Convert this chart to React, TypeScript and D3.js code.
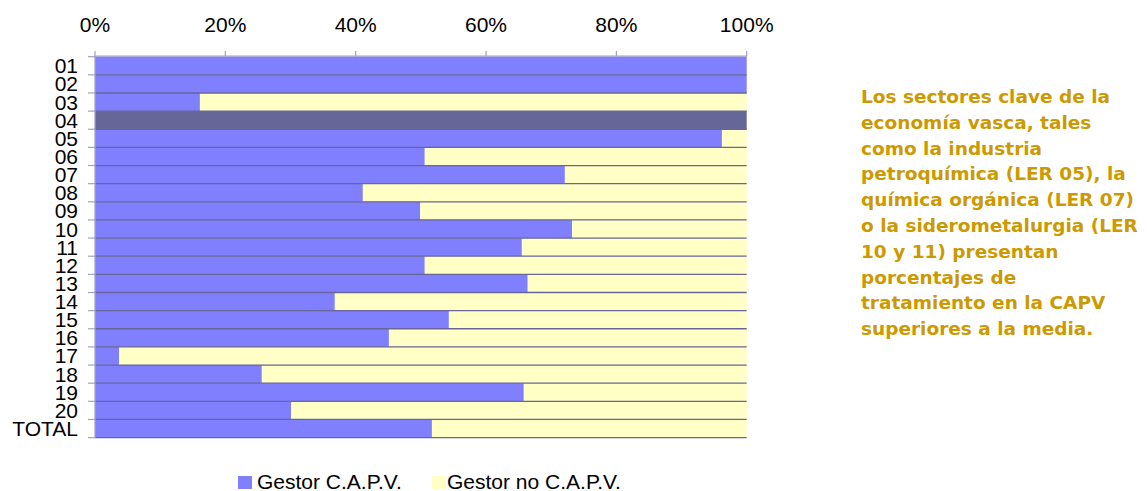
import React from "react";
import * as d3 from "d3";

const categories = ["01","02","03","04","05","06","07","08","09","10","11","12","13","14","15","16","17","18","19","20","TOTAL"];
// share (%) of waste treated by a C.A.P.V. manager; null = no data (row drawn dark)
const gestorCAPV: (number | null)[] = [100, 100, 16.1, null, 96.2, 50.6, 72.1, 41.1, 49.9, 73.2, 65.5, 50.6, 66.4, 36.8, 54.3, 45.1, 3.7, 25.6, 65.8, 30.1, 51.7];
const xTicks = [0, 20, 40, 60, 80, 100];
const seriesNames = ["Gestor C.A.P.V.", "Gestor no C.A.P.V."];
const noteLines = [
  "Los sectores clave de la",
  "economía vasca, tales",
  "como la industria",
  "petroquímica (LER 05), la",
  "química orgánica (LER 07)",
  "o la siderometalurgia (LER",
  "10 y 11) presentan",
  "porcentajes de",
  "tratamiento en la CAPV",
  "superiores a la media.",
];

const W = 1147, H = 491;
const BLUE = "#8080FF", YELLOW = "#FFFFC6", DARK = "#666699", AXIS = "#A0A0C8";
const FONT = "'Liberation Sans', Arial, sans-serif";

export default function App() {
  const x = d3.scaleLinear().domain([0, 100]).range([95, 746.7]);
  const y = d3.scaleBand<string>().domain(categories).range([56.7, 437.6]).paddingInner(0).paddingOuter(0);
  const bw = y.bandwidth();
  const boundaries = d3.range(categories.length + 1).map((i) => 56.7 + i * bw);

  return (
    <svg width={W} height={H} style={{ position: "absolute", left: 0, top: 0, background: "#fff" }}>
      {/* bars */}
      {categories.map((c, i) => {
        const v = gestorCAPV[i];
        const y0 = y(c)!;
        if (v === null) {
          return <rect key={c} x={x(0)} y={y0} width={x(100) - x(0)} height={bw} fill={DARK} />;
        }
        return (
          <g key={c}>
            <rect x={x(0)} y={y0} width={x(v) - x(0)} height={bw} fill={BLUE} />
            <rect x={x(v)} y={y0} width={x(100) - x(v)} height={bw} fill={YELLOW} />
          </g>
        );
      })}
      {/* row separators */}
      {boundaries.slice(1).map((b, i) => (
        <line key={i} x1={x(0)} x2={x(100)} y1={b} y2={b} stroke={DARK} strokeWidth={1.3} />
      ))}
      {/* top axis */}
      <line x1={x(0)} x2={x(100)} y1={56.2} y2={56.2} stroke={AXIS} strokeWidth={1.2} />
      {xTicks.map((t) => (
        <g key={t}>
          <line x1={x(t)} x2={x(t)} y1={51} y2={56.5} stroke={AXIS} strokeWidth={1.2} />
          <text x={x(t)} y={32} textAnchor="middle" fontFamily={FONT} fontSize={21} fill="#000">{t}%</text>
        </g>
      ))}
      {/* left axis */}
      <line x1={95} x2={95} y1={56.2} y2={438} stroke={AXIS} strokeWidth={1.2} />
      {boundaries.map((b, i) => (
        <line key={i} x1={88} x2={95} y1={b} y2={b} stroke={AXIS} strokeWidth={1.2} />
      ))}
      {categories.map((c) => (
        <text key={c} x={78} y={y(c)! + bw / 2 + 7.5} textAnchor="end" fontFamily={FONT} fontSize={21} fill="#000">{c}</text>
      ))}
      {/* legend */}
      <rect x={238} y={476} width={14} height={13} fill={BLUE} />
      <text x={257} y={488.5} fontFamily={FONT} fontSize={21} fill="#000">{seriesNames[0]}</text>
      <rect x={432} y={476} width={14} height={13} fill={YELLOW} />
      <text x={447} y={488.5} fontFamily={FONT} fontSize={21} fill="#000">{seriesNames[1]}</text>
      {/* note */}
      <text fontFamily="'DejaVu Sans', Verdana, sans-serif" fontWeight="bold" fontSize={18.5} fill="#CC9900">
        {noteLines.map((l, i) => (
          <tspan key={i} x={861} y={103 + i * 25.8}>{l}</tspan>
        ))}
      </text>
    </svg>
  );
}
